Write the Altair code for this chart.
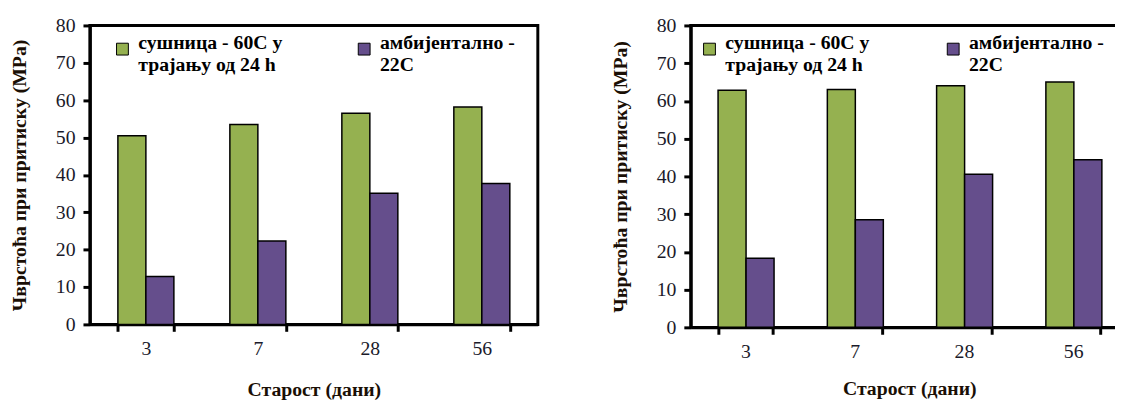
import altair as alt
import pandas as pd

ages = ["3", "7", "28", "56"]
series = ["сушница - 60C у\nтрајању од 24 h", "амбијентално -\n22C"]
left_oven = [50.5, 53.5, 56.5, 58.2]
left_ambient = [12.8, 22.3, 35.1, 37.7]
right_oven = [62.8, 63.0, 64.0, 65.0]
right_ambient = [18.3, 28.5, 40.6, 44.4]
colors = ["#95B150", "#654E8C"]
y_ticks = [0, 10, 20, 30, 40, 50, 60, 70, 80]

x_title = "Старост (дани)"
y_title = "Чврстоћа при притиску (MPa)"

SERIF = "Liberation Serif"


def make_df(oven, ambient):
    rows = []
    for a, v in zip(ages, oven):
        rows.append({"age": a, "series": series[0], "value": v})
    for a, v in zip(ages, ambient):
        rows.append({"age": a, "series": series[1], "value": v})
    return pd.DataFrame(rows)


def panel(df, w, h, col_pad, lx, x_tp):
    return alt.Chart(df).mark_bar(stroke="black", strokeWidth=1.5).encode(
        x=alt.X("age:N", sort=ages,
                scale=alt.Scale(paddingInner=0.5, paddingOuter=0.25),
                axis=alt.Axis(title=x_title, labelAngle=0, tickBand="extent",
                              titlePadding=x_tp)),
        xOffset=alt.XOffset("series:N", sort=series),
        y=alt.Y("value:Q", scale=alt.Scale(domain=[0, 80], nice=False),
                axis=alt.Axis(title=y_title, values=y_ticks)),
        color=alt.Color("series:N", sort=series,
                        scale=alt.Scale(domain=series, range=colors),
                        legend=alt.Legend(
                            title=None, orient="none", legendX=lx, legendY=14,
                            direction="horizontal", columns=2, columnPadding=col_pad,
                            symbolType="square", symbolSize=144,
                            symbolStrokeColor="black", symbolStrokeWidth=1,
                            labelFont=SERIF, labelFontSize=20, labelFontWeight="bold",
                            labelColor="black", labelLimit=400,
                            labelExpr="split(datum.label, '\\n')",
                            labelBaseline="alphabetic", labelOffset=6,
                            symbolOpacity=1)),
    ).properties(width=w, height=h)


left = panel(make_df(left_oven, left_ambient), 454, 303, 72, 23, 21)
right = panel(make_df(right_oven, right_ambient), 443, 306, 74, 9, 17)

chart = alt.hconcat(left, right, spacing=70).resolve_scale(color="independent").configure_view(
    stroke="black", strokeWidth=3
).configure_axis(
    grid=False,
    domainColor="black", domainWidth=3,
    tickColor="black", tickWidth=3, tickSize=7,
    labelFont=SERIF, labelFontSize=20, labelColor="#1a1a2a",
    titleFont=SERIF, titleFontSize=20, titleFontWeight="bold", titleColor="#1a0f05",
).configure_axisY(
    labelPadding=8, titlePadding=26,
).configure_axisX(
    labelPadding=8,
).properties(
    padding={"left": 0, "top": 3, "right": -15, "bottom": 0},
    background="white",
)

chart.save("out.html", embed_options={"renderer": "svg", "actions": False})
